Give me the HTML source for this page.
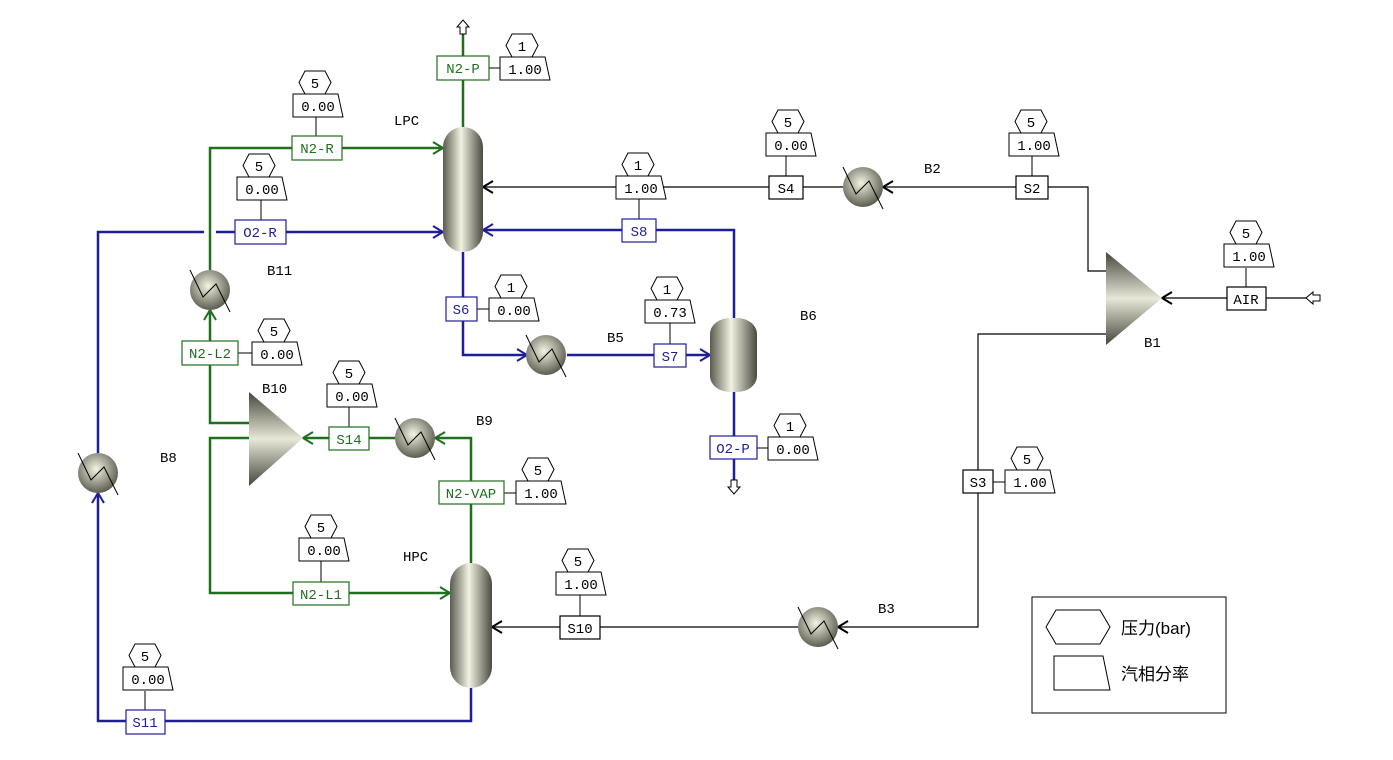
<!DOCTYPE html>
<html><head><meta charset="utf-8"><style>
html,body{margin:0;padding:0;background:#fff;}
svg{display:block;}
text{font-family:"Liberation Mono","DejaVu Sans Mono",monospace;font-size:14px;}
.g{stroke:#1f6f1f;stroke-width:2.5;fill:none}
.b{stroke:#1e1e96;stroke-width:2.5;fill:none}
.k{stroke:#000;stroke-width:1.2;fill:none}
.lg{fill:#fff;stroke:#1f6f1f;stroke-width:1.2}
.lb{fill:#fff;stroke:#1e1e96;stroke-width:1.2}
.lk{fill:#fff;stroke:#000;stroke-width:1.2}
.tg{fill:#1f6f1f}.tb{fill:#1e1e96}
.bl{font-size:14px}
</style></head><body>
<svg width="1393" height="760" viewBox="0 0 1393 760" xmlns="http://www.w3.org/2000/svg">
<defs>
<linearGradient id="col" x1="0" x2="1" y1="0" y2="0">
<stop offset="0" stop-color="#5a5a4e"/><stop offset="0.45" stop-color="#f2f2e2"/><stop offset="1" stop-color="#4a4a40"/></linearGradient>
<radialGradient id="ht" cx="0.45" cy="0.4" r="0.6">
<stop offset="0" stop-color="#f4f4e4"/><stop offset="1" stop-color="#5c5c50"/></radialGradient>
<linearGradient id="tri" x1="0" x2="0" y1="0" y2="1">
<stop offset="0" stop-color="#45453c"/><stop offset="0.5" stop-color="#e8e8d8"/><stop offset="1" stop-color="#45453c"/></linearGradient>
<g id="hx"><circle r="20" fill="url(#ht)"/><polyline points="-20,-20 -7,7 6,-6 20,22" fill="none" stroke="#000" stroke-width="1"/></g>
<g id="tag"><polygon points="6,-11.5 12,-23 32,-23 38,-11.5 32,0 12,0" fill="#fff" stroke="#000" stroke-width="1"/><polygon points="0,0 45,0 50,23 0,23" fill="#fff" stroke="#000" stroke-width="1"/></g>
</defs>

<!-- ===== Green streams ===== -->
<polyline class="g" points="463,127 463,30"/>
<polyline class="g" points="210,270 210,148 443,148"/>
<polyline class="g" points="471,563 471,438 435,438"/>
<polyline class="g" points="395,438 303,438"/>
<polyline class="g" points="249,423 210,423 210,310"/>
<polyline class="g" points="249,438 210,438 210,593 450,593"/>
<!-- ===== Blue streams ===== -->
<polyline class="b" points="98,453 98,232 204,232"/>
<polyline class="b" points="216,232 443,232"/>
<polyline class="b" points="734,318 734,230 483,230"/>
<polyline class="b" points="463,252 463,355 526,355"/>
<polyline class="b" points="567,355 710,355"/>
<polyline class="b" points="734,392 734,480"/>
<polyline class="b" points="471,688 471,721 98,721 98,493"/>
<!-- ===== Black streams ===== -->
<polyline class="k" points="843,187 483,187"/>
<polyline class="k" points="1106,271 1088,271 1088,187 883,187"/>
<polyline class="k" points="1316,298 1162,298"/>
<polyline class="k" points="1106,334 978,334 978,627 838,627"/>
<polyline class="k" points="798,627 492,627"/>

<!-- arrowheads -->
<g fill="none" stroke-width="2">
<polyline stroke="#1f6f1f" points="433,142 443,148 433,154"/>
<polyline stroke="#1e1e96" points="433,226 443,232 433,238"/>
<polyline stroke="#1e1e96" points="493,224 483,230 493,236"/>
<polyline stroke="#000" points="493,181 483,187 493,193"/>
<polyline stroke="#1e1e96" points="517,349 527,355 517,361"/>
<polyline stroke="#1e1e96" points="700,349 710,355 700,361"/>
<polyline stroke="#1f6f1f" points="445,432 435,438 445,444"/>
<polyline stroke="#1f6f1f" points="313,432 303,438 313,444"/>
<polyline stroke="#1f6f1f" points="204,320 210,310 216,320"/>
<polyline stroke="#1f6f1f" points="440,587 450,593 440,599"/>
<polyline stroke="#1e1e96" points="92,503 98,493 104,503"/>
<polyline stroke="#000" points="893,181 883,187 893,193"/>
<polyline stroke="#000" points="1172,292 1162,298 1172,304"/>
<polyline stroke="#000" points="848,621 838,627 848,633"/>
<polyline stroke="#000" points="502,621 492,627 502,633"/>
</g>
<!-- open arrows -->
<polygon points="463,20 457,27 460,27 460,34 466,34 466,27 469,27" fill="#fff" stroke="#000" stroke-width="1"/>
<polygon points="734,494 728,487 731,487 731,480 737,480 737,487 740,487" fill="#fff" stroke="#000" stroke-width="1"/>
<polygon points="1306,298 1313,292 1313,295 1320,295 1320,301 1313,301 1313,304" fill="#fff" stroke="#000" stroke-width="1"/>

<!-- equipment -->
<rect x="443" y="127" width="40" height="125" rx="20" ry="20" fill="url(#col)"/>
<rect x="450" y="563" width="42" height="125" rx="21" ry="21" fill="url(#col)"/>
<rect x="710" y="318" width="47" height="74" rx="20" ry="16" fill="url(#col)"/>
<polygon points="249,392 249,486 303,438" fill="url(#tri)"/>
<polygon points="1106,252 1106,345 1162,298" fill="url(#tri)"/>
<use href="#hx" x="210" y="290"/>
<use href="#hx" x="98" y="473"/>
<use href="#hx" x="546" y="355"/>
<use href="#hx" x="415" y="438"/>
<use href="#hx" x="863" y="187"/>
<use href="#hx" x="818" y="627"/>

<!-- connectors from labels to tags -->
<g stroke="#000" stroke-width="1">
<line x1="489" y1="68" x2="500" y2="68"/>
<line x1="316" y1="117" x2="316" y2="136"/>
<line x1="261" y1="200" x2="261" y2="220"/>
<line x1="639" y1="199" x2="639" y2="219"/>
<line x1="786" y1="156" x2="786" y2="176"/>
<line x1="1032" y1="156" x2="1032" y2="176"/>
<line x1="1246" y1="268" x2="1246" y2="287"/>
<line x1="477" y1="309" x2="489" y2="309"/>
<line x1="670" y1="323" x2="670" y2="344"/>
<line x1="757" y1="448" x2="768" y2="448"/>
<line x1="993" y1="482" x2="1005" y2="482"/>
<line x1="504" y1="493" x2="516" y2="493"/>
<line x1="349" y1="407" x2="349" y2="427"/>
<line x1="238" y1="353" x2="252" y2="353"/>
<line x1="321" y1="561" x2="321" y2="582"/>
<line x1="580" y1="595" x2="580" y2="616"/>
<line x1="145" y1="691" x2="145" y2="710"/>
</g>

<!-- stream labels -->
<rect class="lg" x="437" y="56" width="52" height="24"/><text class="tg" x="463" y="73" text-anchor="middle">N2-P</text>
<rect class="lg" x="292" y="136" width="50" height="24"/><text class="tg" x="317" y="153" text-anchor="middle">N2-R</text>
<rect class="lb" x="235" y="220" width="51" height="24"/><text class="tb" x="260" y="237" text-anchor="middle">O2-R</text>
<rect class="lb" x="622" y="219" width="34" height="23"/><text class="tb" x="639" y="236" text-anchor="middle">S8</text>
<rect class="lk" x="769" y="176" width="34" height="23"/><text x="786" y="193" text-anchor="middle">S4</text>
<rect class="lk" x="1016" y="176" width="32" height="23"/><text x="1032" y="193" text-anchor="middle">S2</text>
<rect class="lk" x="1227" y="287" width="39" height="23"/><text x="1246" y="304" text-anchor="middle">AIR</text>
<rect class="lb" x="446" y="297" width="31" height="24"/><text class="tb" x="461" y="314" text-anchor="middle">S6</text>
<rect class="lb" x="654" y="344" width="32" height="23"/><text class="tb" x="670" y="361" text-anchor="middle">S7</text>
<rect class="lb" x="710" y="436" width="47" height="23"/><text class="tb" x="733" y="453" text-anchor="middle">O2-P</text>
<rect class="lk" x="963" y="470" width="30" height="23"/><text x="978" y="487" text-anchor="middle">S3</text>
<rect class="lg" x="439" y="481" width="65" height="23"/><text class="tg" x="471" y="498" text-anchor="middle">N2-VAP</text>
<rect class="lg" x="329" y="427" width="40" height="23"/><text class="tg" x="349" y="444" text-anchor="middle">S14</text>
<rect class="lg" x="182" y="341" width="56" height="24"/><text class="tg" x="210" y="358" text-anchor="middle">N2-L2</text>
<rect class="lg" x="293" y="582" width="56" height="23"/><text class="tg" x="321" y="599" text-anchor="middle">N2-L1</text>
<rect class="lk" x="560" y="616" width="40" height="23"/><text x="580" y="633" text-anchor="middle">S10</text>
<rect class="lb" x="126" y="710" width="39" height="24"/><text class="tb" x="145" y="727" text-anchor="middle">S11</text>

<!-- data tags -->
<g text-anchor="middle">
<g transform="translate(500,57)"><use href="#tag"/><text x="25" y="17">1.00</text><text x="22" y="-6">1</text></g>
<g transform="translate(293,94)"><use href="#tag"/><text x="25" y="17">0.00</text><text x="22" y="-6">5</text></g>
<g transform="translate(237,177)"><use href="#tag"/><text x="25" y="17">0.00</text><text x="22" y="-6">5</text></g>
<g transform="translate(616,176)"><use href="#tag"/><text x="25" y="17">1.00</text><text x="22" y="-6">1</text></g>
<g transform="translate(766,133)"><use href="#tag"/><text x="25" y="17">0.00</text><text x="22" y="-6">5</text></g>
<g transform="translate(1009,133)"><use href="#tag"/><text x="25" y="17">1.00</text><text x="22" y="-6">5</text></g>
<g transform="translate(1224,244)"><use href="#tag"/><text x="25" y="17">1.00</text><text x="22" y="-6">5</text></g>
<g transform="translate(489,298)"><use href="#tag"/><text x="25" y="17">0.00</text><text x="22" y="-6">1</text></g>
<g transform="translate(645,300)"><use href="#tag"/><text x="25" y="17">0.73</text><text x="22" y="-6">1</text></g>
<g transform="translate(768,437)"><use href="#tag"/><text x="25" y="17">0.00</text><text x="22" y="-6">1</text></g>
<g transform="translate(1005,470)"><use href="#tag"/><text x="25" y="17">1.00</text><text x="22" y="-6">5</text></g>
<g transform="translate(516,481)"><use href="#tag"/><text x="25" y="17">1.00</text><text x="22" y="-6">5</text></g>
<g transform="translate(327,384)"><use href="#tag"/><text x="25" y="17">0.00</text><text x="22" y="-6">5</text></g>
<g transform="translate(252,342)"><use href="#tag"/><text x="25" y="17">0.00</text><text x="22" y="-6">5</text></g>
<g transform="translate(299,538)"><use href="#tag"/><text x="25" y="17">0.00</text><text x="22" y="-6">5</text></g>
<g transform="translate(556,572)"><use href="#tag"/><text x="25" y="17">1.00</text><text x="22" y="-6">5</text></g>
<g transform="translate(123,667)"><use href="#tag"/><text x="25" y="17">0.00</text><text x="22" y="-6">5</text></g>
</g>

<!-- block labels -->
<text x="394" y="125">LPC</text>
<text x="267" y="275">B11</text>
<text x="607" y="342">B5</text>
<text x="800" y="320">B6</text>
<text x="924" y="173">B2</text>
<text x="1144" y="347">B1</text>
<text x="262" y="393">B10</text>
<text x="476" y="425">B9</text>
<text x="160" y="462">B8</text>
<text x="403" y="561">HPC</text>
<text x="878" y="613">B3</text>

<!-- legend -->
<rect x="1032" y="597" width="194" height="116" fill="#fff" stroke="#000" stroke-width="1"/>
<polygon points="1046,627 1056,610 1100,610 1110,627 1100,644 1056,644" fill="#fff" stroke="#000" stroke-width="1"/>
<polygon points="1054,656 1103,656 1110,690 1054,690" fill="#fff" stroke="#000" stroke-width="1"/>
<text x="1121" y="634" style="font-family:'Liberation Sans','Noto Sans CJK SC',sans-serif;font-size:17px">压力(bar)</text>
<text x="1121" y="680" style="font-family:'Liberation Sans','Noto Sans CJK SC',sans-serif;font-size:17px">汽相分率</text>
</svg>
</body></html>
